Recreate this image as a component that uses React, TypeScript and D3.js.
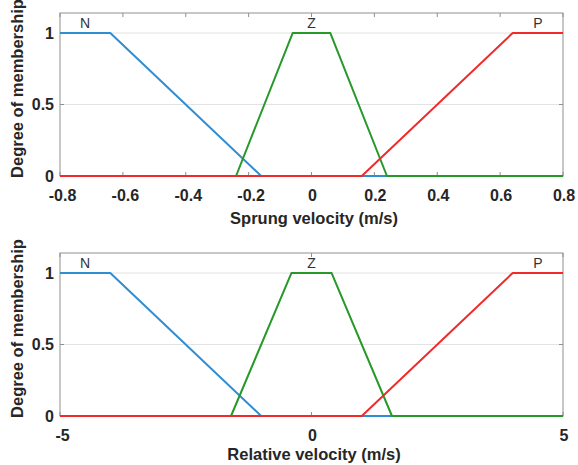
import * as d3 from 'd3';

type Pt = [number, number];

// membership functions
const sprungN: Pt[] = [[-0.8, 1], [-0.64, 1], [-0.16, 0], [0.8, 0]];
const sprungZ: Pt[] = [[-0.8, 0], [-0.24, 0], [-0.06, 1], [0.06, 1], [0.24, 0], [0.8, 0]];
const sprungP: Pt[] = [[-0.8, 0], [0.16, 0], [0.64, 1], [0.8, 1]];

const relativeN: Pt[] = [[-5, 1], [-4, 1], [-1, 0], [5, 0]];
const relativeZ: Pt[] = [[-5, 0], [-1.6, 0], [-0.4, 1], [0.4, 1], [1.6, 0], [5, 0]];
const relativeP: Pt[] = [[-5, 0], [1, 0], [4, 1], [5, 1]];

const mfNames = ['N', 'Z', 'P'];
const mfColors = ['#2f8dd2', '#26992a', '#f02a2a'];

const sprungTicks = [-0.8, -0.6, -0.4, -0.2, 0, 0.2, 0.4, 0.6, 0.8];
const relativeTicks = [-5, 0, 5];
const yTicks = [0, 0.5, 1];

const FONT = '"Liberation Sans", Arial, sans-serif';
const TEXT = '#262626';

interface PanelProps {
    top: number;
    domain: [number, number];
    ticks: number[];
    xLabel: string;
    labelOffset: number;
    series: Pt[][];
}

function Panel({ top, domain, ticks, xLabel, labelOffset, series }: PanelProps) {
    const left = 60;
    const right = 563;
    const height = 163;
    const bottom = top + height;

    const x = d3.scaleLinear().domain(domain).range([left, right]);
    const y = d3.scaleLinear().domain([0, 1.14]).range([bottom, top]);
    const line = d3.line<Pt>().x(d => x(d[0])).y(d => y(d[1]));

    return (
        <g>
            {/* horizontal grid */}
            {yTicks.filter(t => t > 0).map(t => (
                <line key={'g' + t} x1={left} x2={right} y1={y(t)} y2={y(t)} stroke="#e3e3e3" strokeWidth={1} />
            ))}

            {/* box */}
            <rect x={left} y={top} width={right - left} height={height} fill="none" stroke="#8f8f8f" strokeWidth={1} />

            {/* tick marks, inside, on all four sides */}
            {ticks.map(t => (
                <g key={'xt' + t}>
                    <line x1={x(t)} x2={x(t)} y1={bottom} y2={bottom - 4} stroke="#8f8f8f" />
                    <line x1={x(t)} x2={x(t)} y1={top} y2={top + 4} stroke="#8f8f8f" />
                </g>
            ))}
            {yTicks.map(t => (
                <g key={'yt' + t}>
                    <line x1={left} x2={left + 4} y1={y(t)} y2={y(t)} stroke="#8f8f8f" />
                    <line x1={right} x2={right - 4} y1={y(t)} y2={y(t)} stroke="#8f8f8f" />
                </g>
            ))}

            {/* membership lines: N, Z, P */}
            {series.map((s, i) => (
                <path key={'s' + i} d={line(s) ?? ''} fill="none" stroke={mfColors[i]} strokeWidth={2} strokeLinejoin="round" />
            ))}

            {/* mf names at the middle of each plateau */}
            {series.map((s, i) => {
                const ones = s.filter(p => p[1] === 1).map(p => p[0]);
                const cx = (d3.min(ones)! + d3.max(ones)!) / 2;
                return (
                    <text key={'n' + i} x={x(cx)} y={y(1.035)} textAnchor="middle" fontFamily={FONT} fontSize={14} fill="#333">
                        {mfNames[i]}
                    </text>
                );
            })}

            {/* x tick labels */}
            {ticks.map(t => (
                <text key={'xl' + t} x={x(t) + (t < 0 ? 2.5 : 1)} y={bottom + 25} textAnchor="middle" fontFamily={FONT} fontSize={16} fontWeight="bold" fill={TEXT}>
                    {String(t)}
                </text>
            ))}

            {/* y tick labels */}
            {yTicks.map(t => (
                <text key={'yl' + t} x={left - 6} y={y(t)} dy="0.36em" textAnchor="end" fontFamily={FONT} fontSize={16} fontWeight="bold" fill={TEXT}>
                    {String(t)}
                </text>
            ))}

            <text x={314} y={bottom + labelOffset} textAnchor="middle" fontFamily={FONT} fontSize={16.5} fontWeight="bold" fill={TEXT}>
                {xLabel}
            </text>
            <text transform={`translate(23,${top + height / 2 - 6}) rotate(-90)`} textAnchor="middle" fontFamily={FONT} fontSize={16.5} fontWeight="bold" fill={TEXT}>
                Degree of membership
            </text>
        </g>
    );
}

export default function App() {
    return (
        <svg width={578} height={465} style={{ position: 'absolute', left: 0, top: 0, background: '#fff' }}>
            <rect width={578} height={465} fill="#fff" />
            <Panel top={13} domain={[-0.8, 0.8]} ticks={sprungTicks} xLabel="Sprung velocity (m/s)" labelOffset={48} series={[sprungN, sprungZ, sprungP]} />
            <Panel top={253} domain={[-5, 5]} ticks={relativeTicks} xLabel="Relative velocity (m/s)" labelOffset={44} series={[relativeN, relativeZ, relativeP]} />
        </svg>
    );
}
